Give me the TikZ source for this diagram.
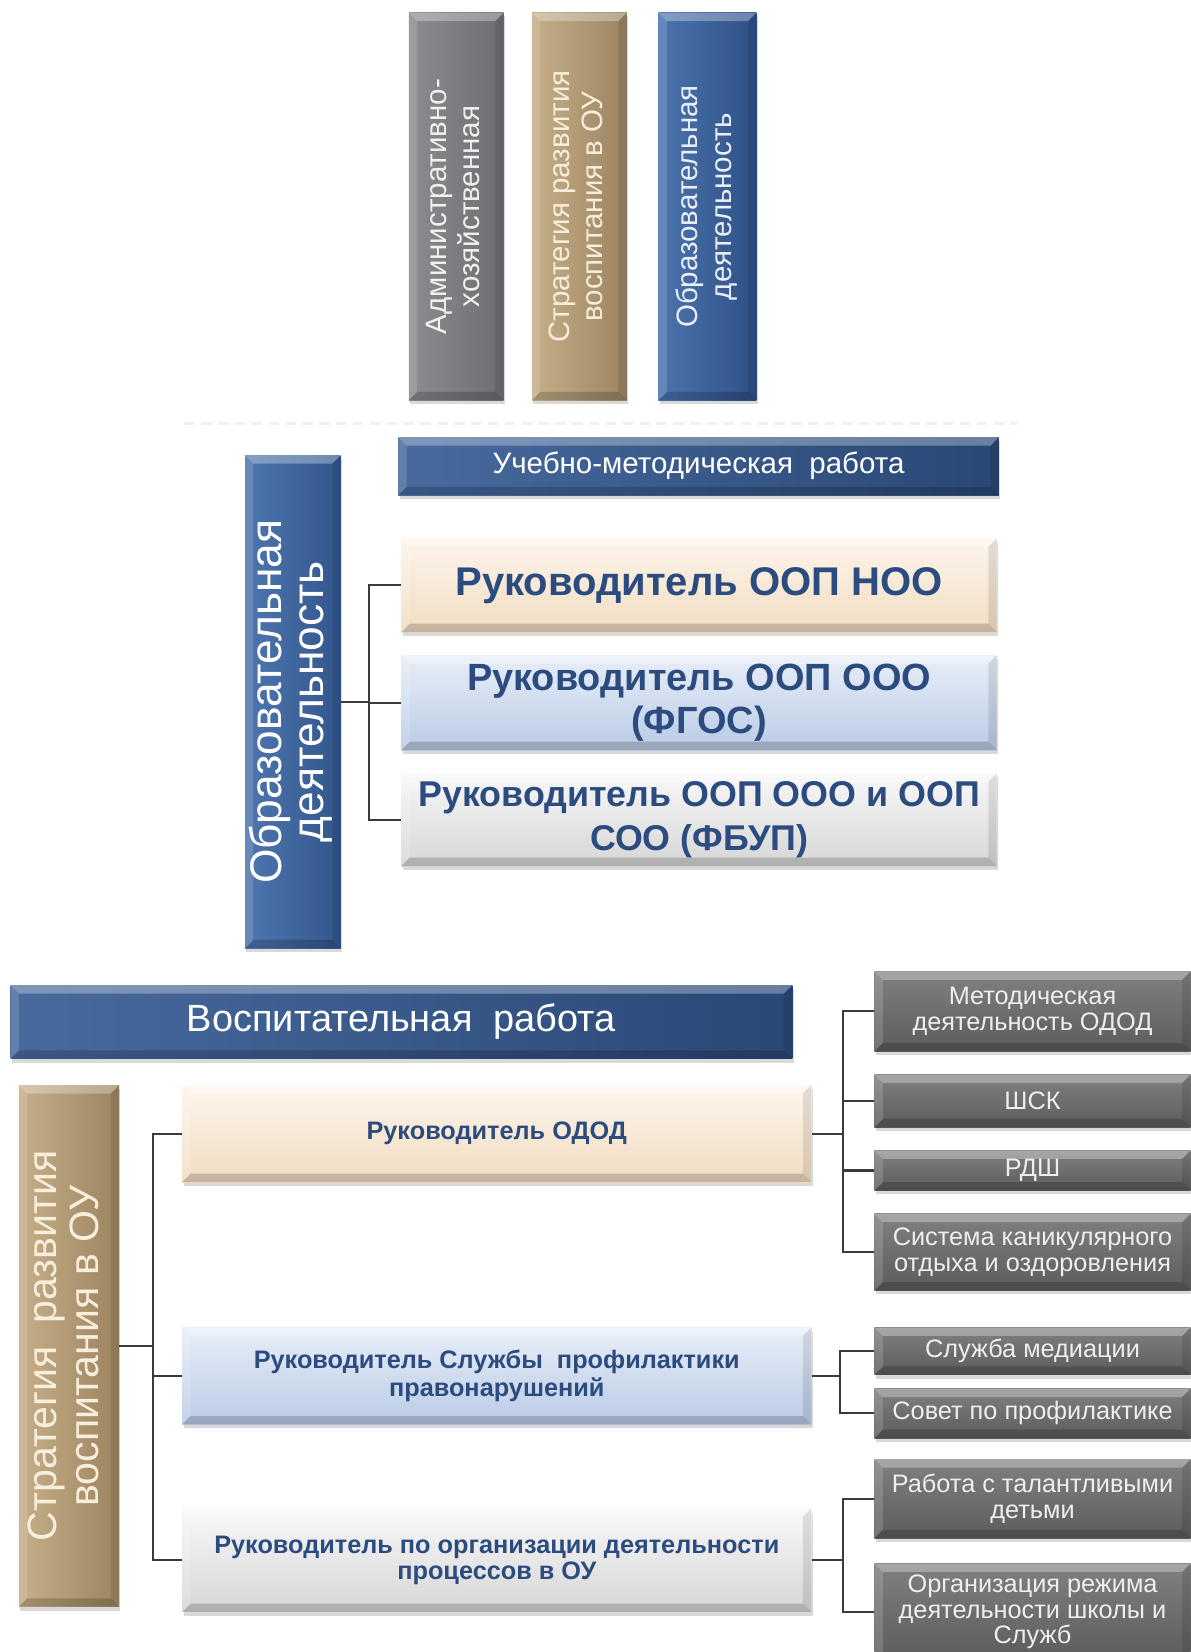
\documentclass[tikz,border=0pt]{standalone}
\usepackage{fontspec}
\setmainfont{Liberation Sans}
\usetikzlibrary{shadows}
\definecolor{boldblue}{HTML}{2C4C80}
\definecolor{linec}{HTML}{3A3A3A}
\newcommand{\vtext}[1]{\rotatebox{90}{\begin{tabular}{@{}c@{}}#1\end{tabular}}}
\begin{document}
\begin{tikzpicture}[x=0.5pt,y=-0.5pt,
  bevel/.style={path picture={
    \coordinate (bvnw) at (path picture bounding box.north west);
    \coordinate (bvne) at (path picture bounding box.north east);
    \coordinate (bvsw) at (path picture bounding box.south west);
    \coordinate (bvse) at (path picture bounding box.south east);
    \fill[white,opacity=.30] (bvnw) -- (bvne) -- ([shift={(-4pt,-4pt)}]bvne) -- ([shift={(4pt,-4pt)}]bvnw) -- cycle;
    \fill[white,opacity=.15] (bvnw) -- ([shift={(4pt,-4pt)}]bvnw) -- ([shift={(4pt,4pt)}]bvsw) -- (bvsw) -- cycle;
    \fill[black,opacity=.18] (bvsw) -- (bvse) -- ([shift={(-4pt,4pt)}]bvse) -- ([shift={(4pt,4pt)}]bvsw) -- cycle;
    \fill[black,opacity=.10] (bvne) -- (bvse) -- ([shift={(-4pt,4pt)}]bvse) -- ([shift={(-4pt,-4pt)}]bvne) -- cycle;
  }},
  box/.style={rectangle, inner sep=2pt, align=center, bevel,
    drop shadow={shadow xshift=0.6pt,shadow yshift=-1.8pt,opacity=0.3}},
  darkbluebox/.style={box, left color={rgb,255:red,72;green,106;blue,158}, right color={rgb,255:red,42;green,72;blue,118}, text=white},
  topbluebox/.style={box, left color={rgb,255:red,76;green,116;blue,174}, right color={rgb,255:red,46;green,80;blue,134}, text={rgb,255:red,235;green,240;blue,248}},
  topgraybox/.style={box, left color={rgb,255:red,138;green,140;blue,143}, right color={rgb,255:red,108;green,110;blue,113}, text={rgb,255:red,240;green,240;blue,240}},
  tanbox/.style={box, left color={rgb,255:red,198;green,174;blue,136}, right color={rgb,255:red,156;green,132;blue,97}, text={rgb,255:red,248;green,238;blue,220}},
  ltanbox/.style={box, top color={rgb,255:red,253;green,245;blue,235}, bottom color={rgb,255:red,241;green,221;blue,194}, text=boldblue},
  lbluebox/.style={box, top color={rgb,255:red,232;green,238;blue,247}, bottom color={rgb,255:red,185;green,203;blue,230}, text=boldblue},
  lgraybox/.style={box, top color={rgb,255:red,248;green,248;blue,248}, bottom color={rgb,255:red,214;green,214;blue,214}, text=boldblue},
  rgraybox/.style={box, top color={rgb,255:red,128;green,128;blue,128}, bottom color={rgb,255:red,92;green,92;blue,92}, text={rgb,255:red,238;green,238;blue,238},
    minimum width=150pt, font=\fontsize{12pt}{12pt}\selectfont},
  conn/.style={draw=linec, line width=1pt}
]
\useasboundingbox (0,0) rectangle (1130,1568);

% faint separator
\draw[black!6, line width=1pt, dash pattern=on 5pt off 3pt] (175,402) -- (965,402);

% top vertical boxes
\node[topgraybox, minimum width=45pt, minimum height=184pt, font=\fontsize{14pt}{16pt}\selectfont] (adm) at (433,196)
  {\vtext{Административно-\\хозяйственная}};
\node[tanbox, minimum width=45pt, minimum height=184pt, font=\fontsize{14pt}{15.5pt}\selectfont] (str1) at (550,196)
  {\vtext{Стратегия развития\\воспитания в ОУ}};
\node[topbluebox, minimum width=46.5pt, minimum height=184pt, font=\fontsize{14pt}{16.5pt}\selectfont] (obr1) at (671.5,196)
  {\vtext{Образовательная\\деятельность}};

% educational block
\node[darkbluebox, minimum width=285pt, minimum height=27.5pt, font=\fontsize{14pt}{16pt}\selectfont] (uch) at (663,442.5)
  {Учебно-методическая\ \ работа};
\node[box, left color={rgb,255:red,78;green,118;blue,175}, right color={rgb,255:red,50;green,86;blue,140}, text=white,
  minimum width=45pt, minimum height=234pt, font=\fontsize{21pt}{20pt}\selectfont] (obr2) at (278,666)
  {\vtext{Образовательная\\деятельность}};
\node[ltanbox, minimum width=282.5pt, minimum height=44.5pt, font=\fontsize{19pt}{20.5pt}\selectfont\bfseries] (noo) at (663.5,555.5)
  {Руководитель ООП НОО};
\node[lbluebox, minimum width=282.5pt, minimum height=45pt, font=\fontsize{18pt}{20.5pt}\selectfont\bfseries] (fgos) at (663.5,667)
  {Руководитель ООП ООО\\(ФГОС)};
\node[lgraybox, minimum width=282.5pt, minimum height=44pt, font=\fontsize{17pt}{20.5pt}\selectfont\bfseries] (fbup) at (663.5,778)
  {Руководитель ООП ООО и ООП\\СОО (ФБУП)};

\coordinate (j1) at (350,666);
\draw[conn] (obr2.east) -- (j1);
\draw[conn] (noo.west) -| (j1 |- fbup.west) -- (fbup.west);
\draw[conn] (fgos.west) -- (j1 |- fgos.west);

% upbringing block
\node[darkbluebox, minimum width=371pt, minimum height=35pt, font=\fontsize{18pt}{20pt}\selectfont] (vosp) at (381,970)
  {Воспитательная\ \ работа};
\node[tanbox, minimum width=47.5pt, minimum height=247.5pt, font=\fontsize{19.5pt}{20pt}\selectfont] (str2) at (65.5,1277.5)
  {\vtext{Стратегия\ \ развития\\воспитания в ОУ}};
\node[ltanbox, minimum width=298.5pt, minimum height=46pt, font=\fontsize{12pt}{13pt}\selectfont\bfseries] (odod) at (471.5,1076)
  {Руководитель ОДОД};
\node[lbluebox, minimum width=298.5pt, minimum height=46pt, font=\fontsize{12pt}{13.5pt}\selectfont\bfseries] (prof) at (471.5,1306)
  {Руководитель Службы\ \ профилактики\\правонарушений};
\node[lgraybox, minimum width=298.5pt, minimum height=49pt, font=\fontsize{12pt}{12.5pt}\selectfont\bfseries] (org) at (471.5,1481)
  {Руководитель по организации деятельности\\процессов в ОУ};

\coordinate (j2) at (145,1277.5);
\draw[conn] (str2.east) -- (j2);
\draw[conn] (odod.west) -| (j2 |- org.west) -- (org.west);
\draw[conn] (prof.west) -- (j2 |- prof.west);

% right gray boxes
\node[rgraybox, minimum height=38pt] (g1) at (980,960) {Методическая\\деятельность ОДОД};
\node[rgraybox, minimum height=25pt] (g2) at (980,1045) {ШСК};
\node[rgraybox, minimum height=19pt] (g3) at (980,1111) {РДШ};
\node[rgraybox, minimum height=36.5pt] (g4) at (980,1188.5) {Система каникулярного\\отдыха и оздоровления};
\node[rgraybox, minimum height=22.5pt] (g5) at (980,1282.5) {Служба медиации};
\node[rgraybox, minimum height=23.5pt] (g6) at (980,1341.5) {Совет по профилактике};
\node[rgraybox, minimum height=37.5pt] (g7) at (980,1422.5) {Работа с талантливыми\\детьми};
\node[rgraybox, minimum height=46pt] (g8) at (980,1530) {Организация режима\\деятельности школы и\\Служб};

\coordinate (j3) at (800,1076);
\draw[conn] (odod.east) -- (j3);
\draw[conn] (g1.west) -| (j3 |- g4.west) -- (g4.west);
\draw[conn] (g2.west) -- (j3 |- g2.west);
\draw[conn] (g3.west) -- (j3 |- g3.west);

\coordinate (j4) at (797,1306);
\draw[conn] (prof.east) -- (j4);
\draw[conn] (g5.west) -| (j4 |- g6.west) -- (g6.west);

\coordinate (j5) at (800,1481);
\draw[conn] (org.east) -- (j5);
\draw[conn] (g7.west) -| (j5 |- g8.west) -- (g8.west);
\end{tikzpicture}
\end{document}
